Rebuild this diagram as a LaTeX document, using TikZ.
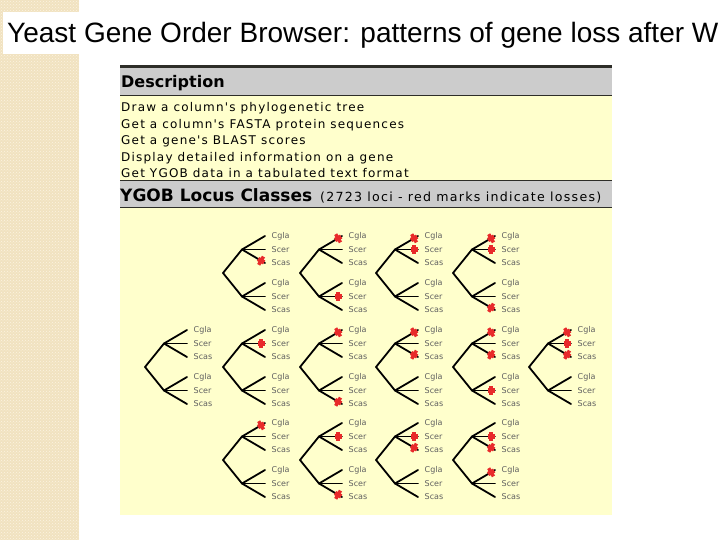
\documentclass[tikz,border=0pt]{standalone}
\usepackage{fontspec}
\setmainfont{Liberation Sans}
\newfontfamily\webfont[LetterSpace=10]{DejaVu Sans}
\newfontfamily\headfont{DejaVu Sans}
\usetikzlibrary{positioning,patterns}

\definecolor{stripbeige}{RGB}{241,226,192}
\definecolor{stripdot}{RGB}{251,244,226}
\definecolor{pageyellow}{RGB}{255,255,204}
\definecolor{headgray}{RGB}{204,204,204}
\definecolor{ruledark}{RGB}{45,45,40}
\definecolor{lossred}{RGB}{232,42,42}
\definecolor{labelgray}{RGB}{95,95,95}

\tikzset{
  branch/.style={line width=1.8pt, line cap=round},
  leaflab/.style={font=\headfont\fontsize{8}{8}\selectfont, text=labelgray, inner sep=0.5pt, anchor=west},
  lossbar/.style={fill=lossred, minimum width=3.5pt, minimum height=9.5pt, inner sep=0pt},
  losstick/.style={fill=lossred, minimum width=7pt, minimum height=4.5pt, inner sep=0pt},
  headline/.style={font=\headfont\bfseries\fontsize{16}{16}\selectfont, inner sep=0pt, anchor=base west},
  descline/.style={font=\webfont\fontsize{12}{12}\selectfont, inner sep=0pt, text height=10pt, text depth=6pt, anchor=north west},
  rule/.style={ruledark, line width=1.3pt}
}

% one locus class: root, two duplicated nodes, three leaves each
\newcommand{\ygobtree}[4]{%
  \begin{scope}[shift={(#2,#3)}]
    \coordinate (#1-r) at (0,0);
    \foreach \s/\dy in {u/-23.5,l/23.5}{
      \coordinate (#1-\s) at (19,\dy);
      \draw[branch] (#1-r) -- (#1-\s);
      \foreach \k/\lab/\ly in {1/Cgla/-13.5,2/Scer/0,3/Scas/13.5}{
        \coordinate (#1-\s\k) at (42,{\dy+(\ly)});
        \draw[branch] (#1-\s) -- (#1-\s\k);
        \node[leaflab, right=6pt of #1-\s\k] (#1-\s\k-lab) {\lab};
      }
    }
    % losses
    \if\relax\detokenize{#4}\relax\else
      \foreach \s/\k in {#4}{
        \path (#1-\s) -- (#1-\s\k)
          node[lossbar, pos=0.83, sloped] {}
          node[losstick, pos=0.83, sloped] {};
      }
    \fi
  \end{scope}}

\begin{document}
\begin{tikzpicture}[x=1pt, y=-1pt]
  \useasboundingbox (0,0) rectangle (720,540);

  % Slide background
  \fill[stripbeige] (0,0) rectangle (79,540);
  \fill[pattern=crosshatch dots, pattern color=stripdot] (0,0) rectangle (79,540);
  \fill[white] (3,12) rectangle (720,54);
  \node[font=\fontsize{28}{30}\selectfont, inner sep=0pt, anchor=base west] (title) at (7,43)
    {Yeast Gene Order Browser: patterns of gene loss after W};

  % Screenshot panel
  \fill[pageyellow] (120,66) rectangle (612,515);
  \fill[headgray] (120,67) rectangle (612,95);
  \fill[headgray] (120,181) rectangle (612,207);
  \draw[ruledark, line width=3pt] (120,67) -- (612,67);
  \draw[rule] (120,95.5) -- (612,95.5);
  \draw[rule] (120,180.5) -- (612,180.5);
  \draw[rule] (120,207.5) -- (612,207.5);

  % Define nodes
  \node[headline] (desc-head) at (121,88) {Description};
  \node[descline] (d1) at (121,101.7) {Draw a column's phylogenetic tree};
  \node[descline, below=0pt of d1.south west, anchor=north west] (d2) {Get a column's FASTA protein sequences};
  \node[descline, below=0pt of d2.south west, anchor=north west] (d3) {Get a gene's BLAST scores};
  \node[descline, below=0pt of d3.south west, anchor=north west] (d4) {Display detailed information on a gene};
  \node[descline, below=0pt of d4.south west, anchor=north west] (d5) {Get YGOB data in a tabulated text format};
  \node[headline, font=\headfont\bfseries\fontsize{17}{17}\selectfont] (ygob-head) at (120,202) {YGOB Locus Classes};
  \node[font=\webfont\fontsize{12.6}{12.6}\selectfont, inner sep=0pt, anchor=base west] (ygob-note) at (320,202)
    {(2723 loci - red marks indicate losses)};

  % Locus classes
  \ygobtree{t11}{223}{273}{u/3}
  \ygobtree{t12}{300}{273}{u/1,l/2}
  \ygobtree{t13}{376}{273}{u/1,u/2}
  \ygobtree{t14}{453}{273}{u/1,u/2,l/3}

  \ygobtree{t21}{145}{367}{}
  \ygobtree{t22}{223}{367}{u/2}
  \ygobtree{t23}{300}{367}{u/1,l/3}
  \ygobtree{t24}{376}{367}{u/1,u/3}
  \ygobtree{t25}{453}{367}{u/1,u/3,l/2}
  \ygobtree{t26}{529}{367}{u/1,u/2,u/3}

  \ygobtree{t31}{223}{460}{u/1}
  \ygobtree{t32}{300}{460}{u/2,l/3}
  \ygobtree{t33}{376}{460}{u/2,u/3}
  \ygobtree{t34}{453}{460}{u/2,u/3,l/1}

\end{tikzpicture}
\end{document}
